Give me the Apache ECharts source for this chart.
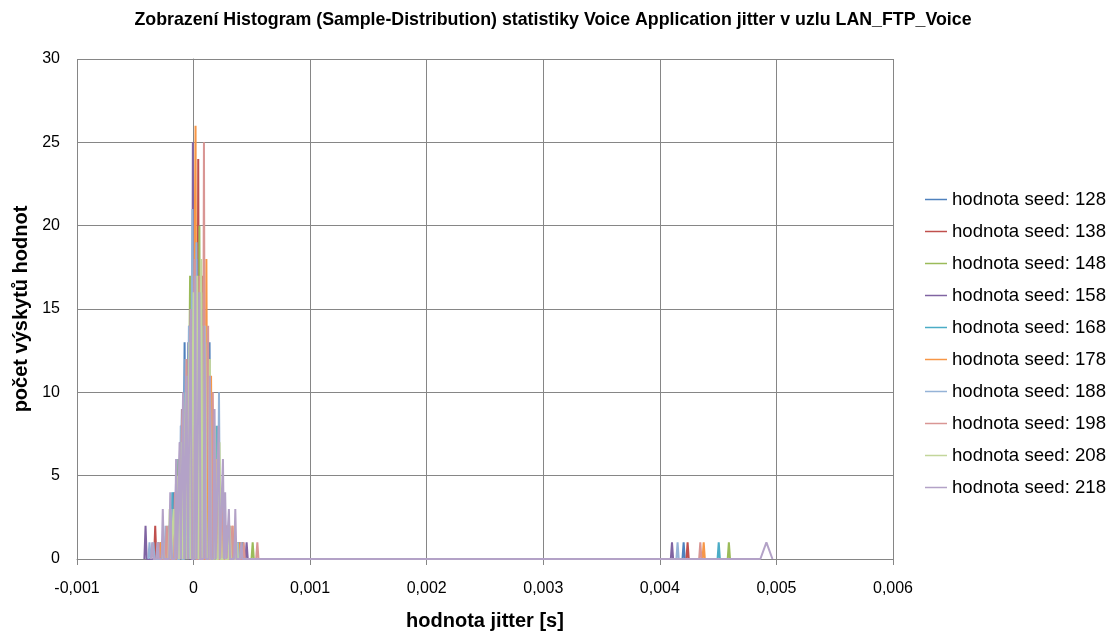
<!DOCTYPE html>
<html>
<head>
<meta charset="utf-8">
<script src="https://cdn.jsdelivr.net/npm/echarts@6/dist/echarts.min.js"></script>
<style>
  html, body { margin: 0; padding: 0; background: #ffffff; }
  #chart { width: 1112px; height: 632px; }
</style>
</head>
<body>
<div id="chart"></div>
<script>
// Sample-distribution histograms of voice jitter, one per simulation seed.
// Each entry is [jitter value in s, number of samples] with an optional third
// item giving the distance to the neighbouring empty bins when it is wider than usual.
const seedNames = [
  'hodnota seed: 128', 'hodnota seed: 138', 'hodnota seed: 148', 'hodnota seed: 158',
  'hodnota seed: 168', 'hodnota seed: 178', 'hodnota seed: 188', 'hodnota seed: 198',
  'hodnota seed: 208', 'hodnota seed: 218'
];

const seed128 = [[-0.000300,1],[-0.000215,2],[-0.000170,4],[-0.000130,6],[-0.000100,9],[-0.000077,13],[-0.000040,11],[-0.000010,15],[0.000020,19],[0.000060,16],[0.000100,12],[0.000137,13],[0.000170,9],[0.000210,5],[0.000260,3],[0.000330,1],[0.000395,1],[0.004204,1]];
const seed138 = [[-0.000329,2],[-0.000230,1],[-0.000180,3],[-0.000140,5],[-0.000105,8],[-0.000070,10],[-0.000035,14],[0.000000,19],[0.000040,24],[0.000080,17],[0.000115,13],[0.000150,9],[0.000190,6],[0.000235,3],[0.000290,2],[0.000360,1],[0.000420,1],[0.004238,1]];
const seed148 = [[-0.000250,1],[-0.000190,2],[-0.000160,3],[-0.000127,6],[-0.000095,8],[-0.000060,12],[-0.000030,17],[0.000010,15],[0.000050,20],[0.000085,16],[0.000120,11],[0.000160,8],[0.000200,5],[0.000240,3],[0.000300,2],[0.000350,1],[0.000507,1],[0.004592,1]];
const seed158 = [[-0.000412,2],[-0.000280,1],[-0.000210,2],[-0.000150,5],[-0.000115,7],[-0.000080,10],[-0.000045,13],[-0.000006,25],[0.000030,18],[0.000070,15],[0.000105,12],[0.000163,9],[0.000205,6],[0.000250,3],[0.000310,2],[0.000380,1],[0.000455,1],[0.004104,1]];
const seed168 = [[-0.000260,1],[-0.000183,4],[-0.000143,4],[-0.000110,7],[-0.000075,10],[-0.000040,13],[-0.000005,15],[0.000035,16],[0.000075,14],[0.000110,12],[0.000150,10],[0.000200,8],[0.000230,4],[0.000280,2],[0.000340,1],[0.000420,1],[0.004505,1]];
const seed178 = [[-0.000280,1],[-0.000200,2],[-0.000165,3],[-0.000120,5],[-0.000085,8],[-0.000050,11],[-0.000020,14],[0.000017,26],[0.000060,15],[0.000110,18],[0.000150,11],[0.000190,4],[0.000220,3],[0.000280,2],[0.000335,2],[0.000400,1],[0.004376,1]];
const seed188 = [[-0.000378,1],[-0.000345,1],[-0.000240,2],[-0.000190,3],[-0.000150,4],[-0.000110,8],[-0.000070,12],[-0.000040,14],[-0.000010,21],[0.000025,19],[0.000065,14],[0.000100,13],[0.000140,11],[0.000180,7],[0.000218,10],[0.000260,2],[0.000320,1],[0.000380,1],[0.004152,1]];
const seed198 = [[-0.000300,1],[-0.000230,2],[-0.000160,4],[-0.000130,5],[-0.000097,9],[-0.000060,12],[-0.000025,15],[0.000010,18],[0.000050,17],[0.000089,25],[0.000125,14],[0.000165,10],[0.000200,6],[0.000245,4],[0.000285,2],[0.000332,2],[0.000430,1],[0.000547,1],[0.004347,1]];
const seed208 = [[-0.000260,1],[-0.000205,3],[-0.000170,3],[-0.000135,5],[-0.000100,7],[-0.000065,10],[-0.000035,13],[0.000000,16],[0.000030,17],[0.000066,18],[0.000100,14],[0.000140,12],[0.000185,8],[0.000223,7],[0.000265,3],[0.000310,2],[0.000370,1]];
const seed218 = [[-0.000355,1],[-0.000310,1],[-0.000264,3],[-0.000200,4],[-0.000150,6],[-0.000120,7],[-0.000090,10],[-0.000060,11],[-0.000025,15],[0.000015,17],[0.000050,16],[0.000095,14],[0.000140,11],[0.000180,9],[0.000215,8],[0.000252,6],[0.000271,4],[0.000303,3],[0.000358,3],[0.000410,1],[0.004914,1,0.000052]];

const seedData = [seed128, seed138, seed148, seed158, seed168, seed178, seed188, seed198, seed208, seed218];

const xTicks = { min: -0.001, max: 0.006, step: 0.001 };
const yTicks = { min: 0, max: 30, step: 5 };

const palette = ['#4F81BD', '#C0504D', '#9BBB59', '#8064A2', '#4BACC6',
                 '#F79646', '#95B3D7', '#D99694', '#C3D69B', '#B3A2C7'];

// Default distance from a populated bin to its empty neighbours.
const BIN_HALF = 0.00001;

// Each populated bin rises from zero at its empty neighbours, peaks at its count
// and falls back to zero; runs of empty bins form the flat baseline.
function toPolyline(points) {
  const pts = points.slice().sort((a, b) => a[0] - b[0]);
  const out = [];
  for (const p of pts) {
    const x = p[0], c = p[1], hw = p[2] || BIN_HALF;
    out.push([x - hw, 0]);
    out.push([x, c]);
    out.push([x + hw, 0]);
  }
  return out;
}

function fmtX(v) {
  if (Math.abs(v) < 1e-9) return '0';
  return v.toFixed(3).replace('.', ',');
}

const FONT = '"Liberation Sans", Arial, sans-serif';

const chart = echarts.init(document.getElementById('chart'), null, { renderer: 'canvas' });

chart.setOption({
  animation: false,
  backgroundColor: '#ffffff',
  color: palette,
  title: {
    text: 'Zobrazení Histogram (Sample-Distribution) statistiky Voice Application jitter v uzlu LAN_FTP_Voice',
    left: 548,
    textAlign: 'center',
    top: 6,
    textStyle: { fontFamily: FONT, fontWeight: 'bold', fontSize: 17.8, color: '#000000' }
  },
  legend: {
    orient: 'vertical',
    left: 920,
    top: 185,
    itemGap: 13,
    itemWidth: 22,
    itemHeight: 21,
    icon: 'path://M0,10 L22,10 L22,11.5 L0,11.5 Z',
    textStyle: { fontFamily: FONT, fontSize: 18.6, color: '#000000', padding: [0, 0, 0, 0] },
    data: seedNames
  },
  grid: { left: 77, right: 219, top: 59, bottom: 73, containLabel: false, outerBoundsMode: 'none' },
  xAxis: {
    type: 'value',
    min: xTicks.min,
    max: xTicks.max,
    interval: xTicks.step,
    name: 'hodnota jitter [s]',
    nameLocation: 'middle',
    nameGap: 52,
    nameTextStyle: { fontFamily: FONT, fontWeight: 'bold', fontSize: 20, color: '#000000' },
    axisLine: { show: true, onZero: false, lineStyle: { color: '#868686', width: 1 } },
    axisTick: { show: true, length: 6, inside: false, lineStyle: { color: '#868686' } },
    axisLabel: { formatter: fmtX, margin: 22, fontFamily: FONT, fontSize: 16, color: '#000000' },
    splitLine: { show: true, lineStyle: { color: '#868686', width: 1 } }
  },
  yAxis: {
    type: 'value',
    min: yTicks.min,
    max: yTicks.max,
    interval: yTicks.step,
    name: 'počet výskytů hodnot',
    nameLocation: 'middle',
    nameGap: 44,
    nameRotate: 90,
    nameTextStyle: { fontFamily: FONT, fontWeight: 'bold', fontSize: 20, color: '#000000' },
    axisLine: { show: true, lineStyle: { color: '#868686', width: 1 } },
    axisTick: { show: true, length: 6, lineStyle: { color: '#868686' } },
    axisLabel: { margin: 17, fontFamily: FONT, fontSize: 16, color: '#000000' },
    splitLine: { show: true, lineStyle: { color: '#868686', width: 1 } }
  },
  series: seedNames.map((name, i) => ({
    name: name,
    type: 'line',
    data: toPolyline(seedData[i]),
    showSymbol: false,
    symbol: 'none',
    smooth: false,
    clip: true,
    lineStyle: { width: 2, color: palette[i] },
    itemStyle: { color: palette[i] },
    emphasis: { disabled: true }
  }))
});
</script>
</body>
</html>
